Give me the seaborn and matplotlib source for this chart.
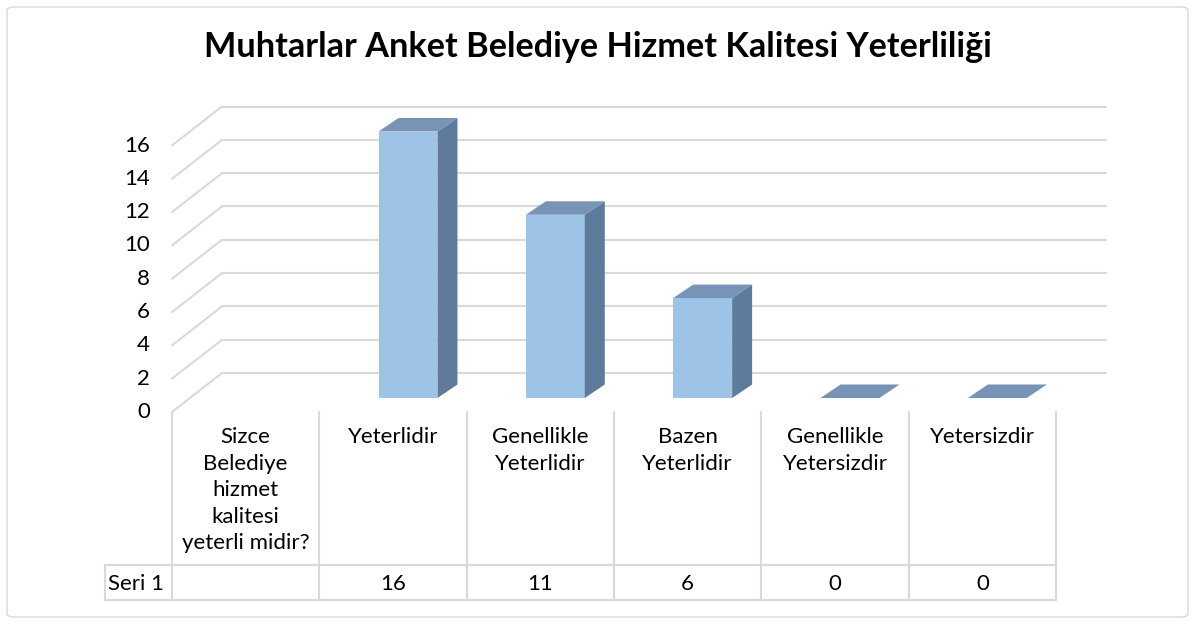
import numpy as np
import pandas as pd
import matplotlib
matplotlib.use("Agg")
import matplotlib.pyplot as plt
import matplotlib.transforms as mtransforms
from matplotlib.patches import Polygon, FancyBboxPatch
import seaborn as sns

# ---------------- data ----------------
categories = [
    "Sizce\nBelediye\nhizmet\nkalitesi\nyeterli midir?",
    "Yeterlidir",
    "Genellikle\nYeterlidir",
    "Bazen\nYeterlidir",
    "Genellikle\nYetersizdir",
    "Yetersizdir",
]
values = [np.nan, 16, 11, 6, 0, 0]
series_name = "Seri 1"
yticks = [0, 2, 4, 6, 8, 10, 12, 14, 16]
title = "Muhtarlar Anket Belediye Hizmet Kalitesi Yeterliliği"

# ---------------- style ----------------
sns.set_theme(style="white")
plt.rcParams["font.family"] = ["Lato", "DejaVu Sans"]

FRONT = "#9DC3E6"
SIDE = "#5F7B9B"
TOP = "#7793B6"
GRID = "#D9D9D9"
TXT = "#000000"
FS = 16

W, H = 1196, 624
fig = plt.figure(figsize=(W / 100, H / 100), dpi=100)
fig.patch.set_facecolor("white")

def fx(px):
    return px / W

def fy(py):
    return 1 - py / H

# outer border
fig.patches.append(FancyBboxPatch((fx(7), fy(617)), fx(1188) - fx(7), fy(7) - fy(617),
                                  boxstyle="round,pad=0,rounding_size=0.006",
                                  transform=fig.transFigure, fill=False,
                                  edgecolor=GRID, linewidth=1.0))

# bar plane axes
left_px, right_px = 187, 1071
bot_px, top_px = 398, 131.5
ax = fig.add_axes([fx(left_px), fy(bot_px), fx(right_px) - fx(left_px), fy(top_px) - fy(bot_px)])
ax.set_facecolor("none")

df = pd.DataFrame({"kategori": categories, "deger": values})
sns.barplot(data=df, x="kategori", y="deger", order=categories, color=FRONT,
            width=0.4, errorbar=None, saturation=1, ax=ax, zorder=3,
            edgecolor="none", linewidth=0)
ax.set_xlim(-0.5, len(categories) - 0.5)
ax.set_ylim(0, 16)
for s in ax.spines.values():
    s.set_visible(False)
ax.set_xlabel("")
ax.set_ylabel("")
ax.set_xticks([])
ax.set_yticks(yticks)
ax.set_yticklabels([str(v) for v in yticks])
ax.tick_params(axis="y", length=0, pad=22 * 0.72, labelsize=FS, colors=TXT)

# perspective offsets (display pixels)
front_tr = mtransforms.offset_copy(ax.transData, fig=fig, x=-15, y=-14, units="dots")
back_tr = mtransforms.offset_copy(ax.transData, fig=fig, x=35, y=25, units="dots")
shift = mtransforms.ScaledTranslation(-15 / 100, -12 / 100, fig.dpi_scale_trans)
for lab in ax.get_yticklabels():
    lab.set_transform(lab.get_transform() + shift)

# gridlines: back wall + left side wall
x0, x1 = -0.5, len(categories) - 0.5
for v in yticks:
    ax.plot([x0, x1], [v, v], color=GRID, lw=1.5, transform=back_tr, clip_on=False, zorder=1)
    p_front = front_tr.transform((x0, v))
    p_back = back_tr.transform((x0, v))
    ax.plot([p_front[0], p_back[0]], [p_front[1], p_back[1]], color=GRID, lw=1.5,
            transform=None, clip_on=False, zorder=1)

# 3D faces for bars
ddx, ddy = 20, 13.5
for patch in ax.patches:
    h = patch.get_height()
    if not np.isfinite(h):
        continue
    bx0 = patch.get_x()
    bx1 = bx0 + patch.get_width()
    (ax0, ay0) = ax.transData.transform((bx0, 0))
    (ax1, ay1) = ax.transData.transform((bx1, h))
    if h > 0:
        side = [(ax1, ay0), (ax1 + ddx, ay0 + ddy), (ax1 + ddx, ay1 + ddy), (ax1, ay1)]
        ax.add_patch(Polygon(side, closed=True, facecolor=SIDE, edgecolor="none",
                             transform=None, clip_on=False, zorder=3))
    top = [(ax0, ay1), (ax1, ay1), (ax1 + ddx, ay1 + ddy), (ax0 + ddx, ay1 + ddy)]
    ax.add_patch(Polygon(top, closed=True, facecolor=TOP, edgecolor="none",
                         transform=None, clip_on=False, zorder=3))

# ---------------- data table ----------------
tab_top, tab_mid, tab_bot = 409, 565, 600
tax = fig.add_axes([fx(172), fy(tab_bot), fx(1056) - fx(172), fy(tab_top) - fy(tab_bot)])
tax.set_xlim(-0.5, len(categories) - 0.5)
tax.set_ylim(tab_bot, tab_top)
tax.axis("off")
n = len(categories)
for i in range(n + 1):
    tax.plot([i - 0.5, i - 0.5], [tab_top + 3, tab_bot], color=GRID, lw=1.5, clip_on=False)
seri_left = -0.5 - (172 - 105) / 147.33
for yy in (tab_mid, tab_bot):
    tax.plot([seri_left, n - 0.5], [yy, yy], color=GRID, lw=1.5, clip_on=False)
tax.plot([seri_left, seri_left], [tab_mid, tab_bot], color=GRID, lw=1.5, clip_on=False)
for i, c in enumerate(categories):
    tax.text(i, tab_top + 18, c, ha="center", va="top", fontsize=FS, color=TXT,
             linespacing=1.41)
    v = values[i]
    if np.isfinite(v):
        tax.text(i, (tab_mid + tab_bot) / 2 + 1, f"{int(v)}", ha="center", va="center",
                 fontsize=FS, color=TXT)
tax.text(seri_left + 0.02, (tab_mid + tab_bot) / 2 + 1, series_name, ha="left", va="center",
         fontsize=FS, color=TXT)

# title
fig.text(0.5, fy(47), title, ha="center", va="center", fontsize=24.7, fontweight="bold",
         color=TXT)

fig.savefig("out.png", dpi=100, facecolor="white")
